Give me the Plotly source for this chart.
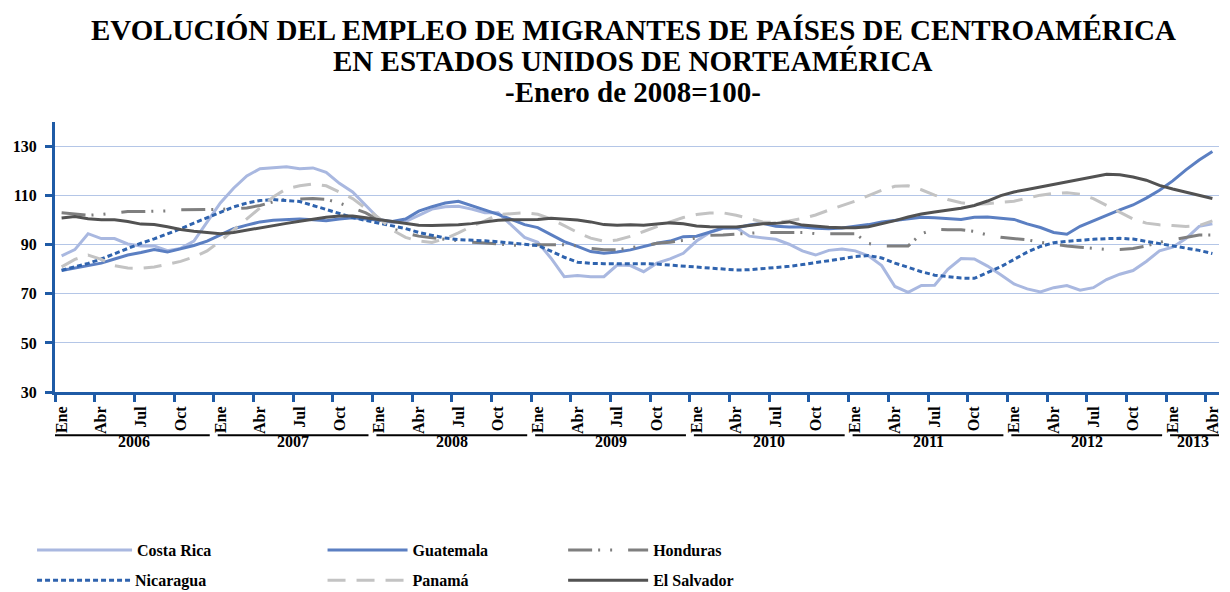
import plotly.graph_objects as go

# ---------------- data (monthly, Jan 2006 .. Apr 2013; Jan 2008 = 100) ----------------
month_labels = ["Ene", "Abr", "Jul", "Oct"]
years = ["2006", "2007", "2008", "2009", "2010", "2011", "2012", "2013"]
months_per_year = [12, 12, 12, 12, 12, 12, 12, 4]

costa_rica = [85.5, 88, 94.5, 92.5, 92.5, 90.3, 89.5, 89.5, 87.6, 88.5, 91.5, 99,
              107, 113, 118, 121, 121.3, 121.8, 121, 121.3, 119.5, 115, 111.5, 106,
              100.5, 99, 99.5, 102, 104.5, 105.5, 105.7, 104.5, 103, 103, 98, 93,
              91, 84.5, 77, 77.5, 77, 77, 81.7, 81.5, 79, 82.5, 84.2, 86.5,
              91.5, 95, 96.7, 97, 93.5, 93, 92.2, 90.2, 87.5, 85.8, 87.7, 88.3,
              87.5, 85.5, 81.5, 73, 70.6, 73.4, 73.5, 80, 84.4, 84.2, 81.3, 77.8,
              74, 72, 70.8, 72.5, 73.4, 71.5, 72.5, 75.8, 78, 79.5, 83.2, 87.5,
              89, 92.5, 97.5, 98.5]

guatemala = [79.5, 80.5, 81.3, 82.5, 84.2, 85.8, 86.8, 88, 87, 88.3, 89.7, 91.5,
             94, 96.5, 98, 99.3, 100, 100.2, 100.5, 100.2, 99.8, 100.5, 101, 100.5,
             100, 99.5, 100.5, 103.7, 105.5, 107, 107.7, 106, 104, 102.4, 100.3, 98.2,
             97, 94, 91.3, 89.3, 87.2, 86.5, 87, 87.9, 89.3, 90.6, 91.5, 93.3,
             93.5, 95.3, 96.8, 96.8, 98, 98.7, 97.5, 97.2, 97.2, 96.7, 96.5, 96.8,
             97.5, 98.2, 99.3, 100, 100.8, 101.2, 101, 100.8, 100.3, 101.2, 101.3, 100.8,
             100.3, 98.5, 97, 95, 94.3, 97.5, 99.8, 101.8, 104.2, 106.2, 109, 112.2,
             116, 120.5, 124.5, 128]

honduras = [103, 102.5, 102, 102.3, 103, 103.5, 103.5, 103.5, 103.8, 104.2, 104.4, 104.4,
            104.4, 104.6, 105, 106, 107.5, 108.5, 108.8, 108.8, 108.5, 107, 105, 103,
            100, 96.5, 94.8, 93.5, 92.8, 92.2, 91.5, 91, 90.7, 90.3, 90, 89.5,
            90, 90, 90, 89.5, 88.5, 88, 87.9, 88.8, 89.5, 90.6, 91, 91.8,
            92.7, 93.8, 94, 94.4, 94.7, 95, 95, 95, 95, 94.5, 94.5, 94.5,
            94.5, 90.5, 89.5, 89.5, 89.5, 94.5, 96.3, 96.1, 96.1, 95.4, 94, 93,
            92.5, 92, 91, 90.2, 89.5, 89, 88.5, 88.1, 88.1, 88.5, 89.5, 91,
            92, 93, 94, 94]

nicaragua = [79.6, 81, 82.4, 84.2, 86.4, 88.5, 90.6, 92.4, 94.4, 96.5, 98.8, 101,
             103.3, 105.4, 107, 108, 108.4, 108.1, 107.6, 106, 104.4, 102.8, 101.1, 99.9,
             98.8, 97.7, 96.6, 95, 93.7, 92.7, 92.1, 92, 91.6, 91.2, 90.7, 90.4,
             89.7, 87.4, 84.9, 82.9, 82.4, 82.3, 82.4, 82.5, 82.3, 82.1, 81.8, 81.3,
             80.9, 80.5, 80, 79.7, 79.8, 80.2, 80.7, 81.2, 81.9, 82.6, 83.3, 84.3,
             85.2, 85.6, 84.6, 82.5, 80.8, 79, 77.6, 77, 76.4, 76.3, 78.5, 81,
             84, 87, 89.3, 90.8, 91.4, 91.9, 92.2, 92.5, 92.6, 92.3, 91.4, 90.3,
             89.4, 88.6, 87.7, 86.4]

panama = [81, 84, 85.8, 84, 81.5, 80.5, 80.4, 80.9, 82, 83.2, 85, 87.5,
          91.5, 96, 100.5, 105, 109.5, 112.8, 114, 114.8, 114, 111.5, 108.8, 104.8,
          100.8, 96, 93, 91.5, 90.9, 92.5, 94.8, 97.5, 99.7, 102.3, 102.8, 103,
          102.4, 100.5, 97.8, 95, 92.7, 91.4, 91.9, 93.4, 95.4, 97.5, 99.3, 101.1,
          102.3, 102.9, 103, 102, 100.7, 99.3, 99.1, 99.7, 100.7, 102.1, 104.1, 105.8,
          107.8, 110, 112.2, 113.8, 114, 112.4, 110.2, 108.4, 107.1, 106.5, 106.7, 107.3,
          107.7, 109, 110.2, 110.9, 111.2, 110.6, 108.8, 106, 103.1, 100.5, 98.8, 98.1,
          97.8, 97.4, 97.8, 99.7]

el_salvador = [100.9, 101.5, 100.6, 100.2, 100.2, 99.5, 98.4, 98.2, 97.3, 96.2, 95.5, 95,
               94.5, 95, 96, 96.9, 97.8, 98.7, 99.6, 100.5, 101.2, 101.7, 101.7, 101,
               100.3, 99.5, 98.7, 97.9, 97.8, 97.8, 98.1, 98.6, 99.2, 100, 100.2, 100.2,
               100.3, 100.8, 100.4, 100.1, 99.3, 98.2, 97.9, 98.1, 97.9, 98.5, 98.9, 98.5,
               97.6, 97.3, 97.2, 97.2, 97.8, 98.5, 98.7, 99.3, 98, 97.4, 97.1, 96.9,
               96.9, 97.3, 98.5, 99.8, 101.3, 102.5, 103.3, 104, 104.9, 106, 107.8, 110,
               111.5, 112.5, 113.5, 114.5, 115.5, 116.5, 117.8, 118.7, 118.5, 117.6, 116.3, 114.2,
               112.7, 111.5, 110, 108.8]

series_names = ["Costa Rica", "Guatemala", "Honduras", "Nicaragua", "Panamá", "El Salvador"]
series_values = [costa_rica, guatemala, honduras, nicaragua, panama, el_salvador]

# ---------------- styles ----------------
FONT = "Liberation Serif"
AXIS_BLUE = "#1F5BA6"
GRID = "#B4C6E7"
styles = {
    "Costa Rica": dict(color="#A9B8E0", width=3, dash="solid"),
    "Guatemala": dict(color="#5B7FC2", width=3, dash="solid"),
    "Honduras": dict(color="#7F7F7F", width=3, dash="24px,6px,2px,10px,2px,16px"),
    "Nicaragua": dict(color="#2F63AE", width=3, dash="5px,3px"),
    "Panamá": dict(color="#C3C3C3", width=3, dash="18px,11px"),
    "El Salvador": dict(color="#525252", width=3, dash="solid"),
}

n = sum(months_per_year)
x = list(range(n))

# ---------------- page geometry ----------------
OFF = 8                      # default body margin of the page
W, H = 1230 - 2 * OFF, 590


def sy(q):
    """window y wanted -> y to request (empirical vertical correction)"""
    return (q - 2.6) / 0.979


PLOT_LEFT, PLOT_RIGHT = 55, 1221
PLOT_TOP, PLOT_BOTTOM = sy(121.8), sy(390)
L = PLOT_LEFT - OFF
R = W - (PLOT_RIGHT - OFF)
T = PLOT_TOP - OFF
B = H - (PLOT_BOTTOM - OFF)
PW, PH = W - L - R, H - T - B


def px_x(p):
    return (p - OFF - L) / PW


def px_y(q):
    return (H - B - (sy(q) - OFF)) / PH


fig = go.Figure()

# legend placement (window px): left x, centre y, sample width
legend_pos = {
    "Costa Rica": (32, 547, 95), "Guatemala": (323, 547, 80), "Honduras": (564, 547, 80),
    "Nicaragua": (32, 577, 93), "Panamá": (323, 577, 80), "El Salvador": (564, 577, 80),
}
legend_keys = ["legend", "legend2", "legend3", "legend4", "legend5", "legend6"]

for name, vals, lk in zip(series_names, series_values, legend_keys):
    fig.add_trace(go.Scatter(
        x=x, y=vals, mode="lines", name=name, legend=lk,
        line=styles[name], hoverinfo="name+y",
    ))

legend_layout = {}
for name, lk in zip(series_names, legend_keys):
    lx, ly, iw = legend_pos[name]
    legend_layout[lk] = dict(
        x=px_x(lx), y=px_y(ly), xanchor="left", yanchor="middle",
        xref="paper", yref="paper", orientation="h",
        bgcolor="rgba(0,0,0,0)", borderwidth=0, itemwidth=iw,
        font=dict(family=FONT, size=16, color="black", weight="bold"),
        itemclick=False, itemdoubleclick=False,
    )

# month tick labels at category centres, tick marks at quarter boundaries
tick_vals = list(range(0, n, 3))
tick_text = [month_labels[(v // 3) % 4] for v in tick_vals]

annotations = []
title_lines = [
    ("EVOLUCIÓN DEL EMPLEO DE MIGRANTES DE PAÍSES DE CENTROAMÉRICA", 30),
    ("EN ESTADOS UNIDOS DE NORTEAMÉRICA", 61),
    ("-Enero de 2008=100-", 92),
]
for txt, yy in title_lines:
    annotations.append(dict(
        text=txt, xref="paper", yref="paper", x=px_x(634), y=px_y(yy),
        xanchor="center", yanchor="middle", showarrow=False,
        font=dict(family=FONT, size=29, color="black", weight="bold"),
    ))

shapes = []
start = 0
for yr, m in zip(years, months_per_year):
    mid = start + (m - 1) / 2
    annotations.append(dict(
        text=yr, xref="x", yref="paper", x=mid, y=px_y(439),
        xanchor="center", yanchor="middle", showarrow=False,
        font=dict(family=FONT, size=16, color="black", weight="bold"),
    ))
    x0 = start - 0.5 + (0 if start == 0 else 0.3)
    x1 = start + m - 0.5 - (0 if start + m == n else 0.3)
    shapes.append(dict(
        type="line", xref="x", yref="paper", x0=x0, x1=x1,
        y0=px_y(433), y1=px_y(433), line=dict(color="black", width=2),
    ))
    start += m

fig.update_layout(
    width=W, height=H, autosize=False,
    margin=dict(l=L, r=R, t=T, b=B, pad=0),
    paper_bgcolor="white", plot_bgcolor="white",
    font=dict(family=FONT, color="black"),
    annotations=annotations, shapes=shapes,
    showlegend=True,
    **legend_layout,
)

fig.update_xaxes(
    range=[-0.5, n - 0.5], tickmode="array", tickvals=tick_vals, ticktext=tick_text,
    tickangle=-90, ticks="", showgrid=False, zeroline=False,
    showline=True, linecolor=AXIS_BLUE, linewidth=3, ticklabelstandoff=5,
    ticklabeloverflow="allow",
    tickfont=dict(family=FONT, size=16, color="black", weight="bold"),
    minor=dict(tickmode="linear", tick0=-0.5, dtick=3, ticks="outside",
               ticklen=7, tickwidth=3, tickcolor=AXIS_BLUE, showgrid=False),
    fixedrange=True,
)
fig.update_yaxes(
    range=[30, 140], tickmode="linear", tick0=30, dtick=20,
    showgrid=True, gridcolor=GRID, gridwidth=1, zeroline=False,
    showline=True, linecolor=AXIS_BLUE, linewidth=3,
    ticks="outside", ticklen=7, tickwidth=3, tickcolor=AXIS_BLUE, ticklabelstandoff=5,
    tickfont=dict(family=FONT, size=16, color="black", weight="bold"),
    fixedrange=True,
)

fig.write_html("out.html")
